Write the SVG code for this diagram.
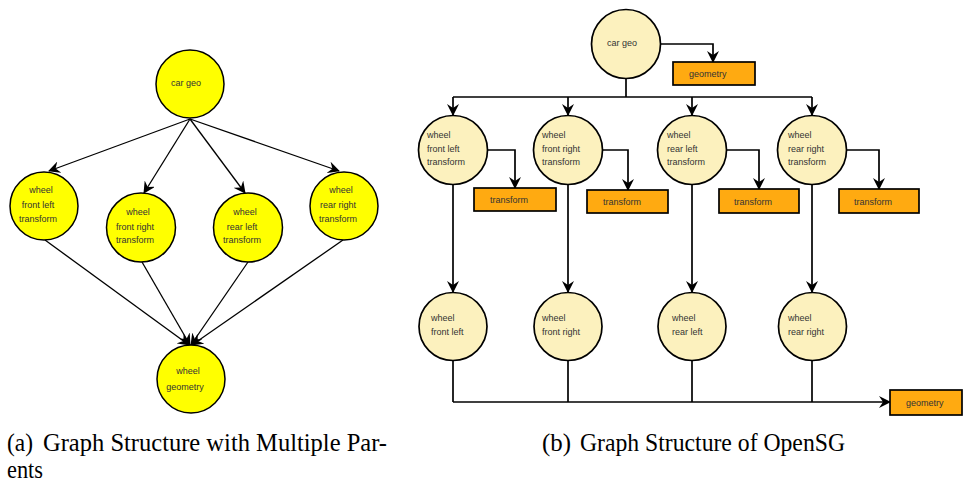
<svg xmlns="http://www.w3.org/2000/svg" width="963" height="484" viewBox="0 0 963 484">
<defs>
<marker id="arr" markerUnits="userSpaceOnUse" markerWidth="12" markerHeight="12" refX="11" refY="6" orient="auto">
<path d="M0,0 L12,6 L0,12 L4,6 z" fill="#000"/>
</marker>
<style>
.lc{fill:#FFFF00;stroke:#000;stroke-width:1.5}
.rc{fill:#FCF1BE;stroke:#000;stroke-width:1.7}
.box{fill:#FFAA11;stroke:#000;stroke-width:1.7}
.t{font-family:"Liberation Sans",Arial,sans-serif;font-size:9px;fill:#333}
.tm{text-anchor:middle}
.ln{fill:none;stroke:#000;stroke-width:1.3;marker-end:url(#arr)}
.rl{fill:none;stroke:#000;stroke-width:1.7}
.ra{fill:none;stroke:#000;stroke-width:1.7;marker-end:url(#arr)}
.cap{font-family:"Liberation Serif","Times New Roman",serif;font-size:25px;fill:#000}
</style>
</defs>
<rect width="963" height="484" fill="#fff"/>

<!-- Left diagram connectors -->
<g id="left-connectors">
<path class="ln" d="M190,119 L49,171"/>
<path class="ln" d="M190,119 L144,193"/>
<path class="ln" d="M190,119 L245,193"/>
<path class="ln" d="M190,119 L339,171"/>
<path class="ln" d="M45,240 L189,345"/>
<path class="ln" d="M142,262 L190,345"/>
<path class="ln" d="M248,262 L191,345"/>
<path class="ln" d="M343,240 L192,345"/>
</g>

<g id="a-cargeo"><circle class="lc" cx="190" cy="84" r="34"/><text class="t tm" x="186" y="86">car geo</text></g>
<g id="a-fl"><circle class="lc" cx="44" cy="206" r="34"/><text class="t tm" x="41" y="193">wheel</text><text class="t tm" x="38" y="208">front left</text><text class="t tm" x="38" y="222">transform</text></g>
<g id="a-fr"><circle class="lc" cx="141" cy="227.5" r="34.5"/><text class="t tm" x="138" y="215">wheel</text><text class="t tm" x="135" y="230">front right</text><text class="t tm" x="135" y="243">transform</text></g>
<g id="a-rl"><circle class="lc" cx="248" cy="227.5" r="34.5"/><text class="t tm" x="245" y="215">wheel</text><text class="t tm" x="242" y="230">rear left</text><text class="t tm" x="242" y="243">transform</text></g>
<g id="a-rr"><circle class="lc" cx="344" cy="206" r="34"/><text class="t tm" x="341" y="193">wheel</text><text class="t tm" x="338" y="208">rear right</text><text class="t tm" x="338" y="222">transform</text></g>
<g id="a-geo"><circle class="lc" cx="191" cy="379" r="34"/><text class="t tm" x="188" y="374">wheel</text><text class="t tm" x="185" y="390">geometry</text></g>

<!-- Right diagram connectors -->
<g id="right-connectors">
<path class="ra" d="M661,44 L713,44 L713,62"/>
<path class="rl" d="M626,78 L626,97"/>
<path class="rl" d="M453,97 L812,97"/>
<path class="ra" d="M453,97 L453,115"/>
<path class="ra" d="M568,97 L568,115"/>
<path class="ra" d="M692,97 L692,115"/>
<path class="ra" d="M812,97 L812,115"/>
<path class="ra" d="M487,150 L515,150 L515,188"/>
<path class="ra" d="M603,150 L628,150 L628,190"/>
<path class="ra" d="M727,150 L759,150 L759,189"/>
<path class="ra" d="M847,150 L879,150 L879,189"/>
<path class="ra" d="M453,185 L453,292"/>
<path class="ra" d="M568,185 L568,292"/>
<path class="ra" d="M692,185 L692,292"/>
<path class="ra" d="M812,185 L812,292"/>
<path class="rl" d="M453,361 L453,402"/>
<path class="rl" d="M568,361 L568,402"/>
<path class="rl" d="M692,361 L692,402"/>
<path class="rl" d="M812,361 L812,402"/>
<path class="ra" d="M453,402 L890,402"/>
</g>

<g id="b-cargeo"><circle class="rc" cx="626" cy="44" r="34.5"/><text class="t" x="607" y="46">car geo</text></g>
<g id="b-geo-top"><rect class="box" x="673" y="62" width="82" height="23"/><text class="t" x="689" y="77">geometry</text></g>

<g id="b-flt"><circle class="rc" cx="453" cy="150" r="34.5"/><text class="t" x="427" y="138">wheel</text><text class="t" x="427" y="152">front left</text><text class="t" x="427" y="165">transform</text></g>
<g id="b-frt"><circle class="rc" cx="568" cy="150" r="34.5"/><text class="t" x="542" y="138">wheel</text><text class="t" x="542" y="152">front right</text><text class="t" x="542" y="165">transform</text></g>
<g id="b-rlt"><circle class="rc" cx="692" cy="150" r="34.5"/><text class="t" x="667" y="138">wheel</text><text class="t" x="667" y="152">rear left</text><text class="t" x="667" y="165">transform</text></g>
<g id="b-rrt"><circle class="rc" cx="812" cy="150" r="34.5"/><text class="t" x="788" y="138">wheel</text><text class="t" x="788" y="152">rear right</text><text class="t" x="788" y="165">transform</text></g>

<g id="b-tr1"><rect class="box" x="474" y="188" width="82" height="23"/><text class="t" x="490" y="203">transform</text></g>
<g id="b-tr2"><rect class="box" x="587" y="190" width="81" height="23"/><text class="t" x="603" y="205">transform</text></g>
<g id="b-tr3"><rect class="box" x="719" y="189" width="80" height="24"/><text class="t" x="734" y="205">transform</text></g>
<g id="b-tr4"><rect class="box" x="839" y="189" width="80" height="24"/><text class="t" x="854" y="205">transform</text></g>

<g id="b-fl"><circle class="rc" cx="453" cy="326.5" r="34"/><text class="t" x="431" y="321">wheel</text><text class="t" x="431" y="335">front left</text></g>
<g id="b-fr"><circle class="rc" cx="568" cy="326.5" r="34"/><text class="t" x="542" y="321">wheel</text><text class="t" x="542" y="335">front right</text></g>
<g id="b-rl"><circle class="rc" cx="692" cy="326.5" r="34"/><text class="t" x="672" y="321">wheel</text><text class="t" x="672" y="335">rear left</text></g>
<g id="b-rr"><circle class="rc" cx="812.5" cy="326.5" r="34"/><text class="t" x="788" y="321">wheel</text><text class="t" x="788" y="335">rear right</text></g>

<g id="b-geo"><rect class="box" x="890" y="390" width="72" height="25"/><text class="t" x="906" y="406">geometry</text></g>

<g id="captions">
<text class="cap" x="7" y="451" textLength="26" lengthAdjust="spacingAndGlyphs">(a)</text>
<text class="cap" x="43" y="451" textLength="344" lengthAdjust="spacingAndGlyphs">Graph Structure with Multiple Par-</text>
<text class="cap" x="7" y="478" textLength="36" lengthAdjust="spacingAndGlyphs">ents</text>
<text class="cap" x="542" y="451" textLength="29" lengthAdjust="spacingAndGlyphs">(b)</text>
<text class="cap" x="580" y="451" textLength="265" lengthAdjust="spacingAndGlyphs">Graph Structure of OpenSG</text>
</g>
</svg>
